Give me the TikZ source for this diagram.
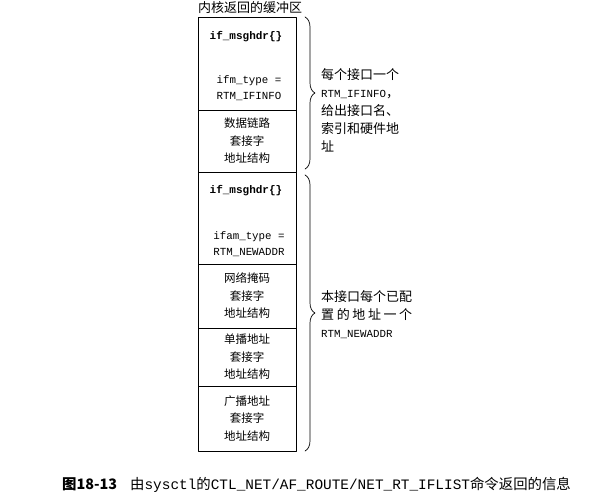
\documentclass[tikz,border=0pt]{standalone}
\usepackage{fontspec}
\newfontfamily\cjk{Noto Sans CJK SC}
\setmonofont{Liberation Mono}
\usetikzlibrary{positioning}
\usetikzlibrary{decorations.pathreplacing}

\begin{document}
\begin{tikzpicture}[x=1pt,y=-1pt,line cap=round,line join=round,
  blk/.style={draw, line width=0.7pt, minimum width=98pt, minimum height=#1,
    inner sep=0pt, outer sep=0pt, align=center,
    font=\cjk\fontsize{11.5}{17.5}\selectfont},
  hdr/.style={font=\ttfamily\bfseries\fontsize{11}{13}\selectfont, inner sep=0pt},
  code/.style={font=\ttfamily\fontsize{10.8}{16}\selectfont, align=center, inner sep=0pt},
  side/.style={font=\cjk\fontsize{13}{18}\selectfont, align=left, anchor=west, inner sep=0pt},
  brc/.style={decorate, decoration={brace, amplitude=10pt}, line width=0.7pt}]
\useasboundingbox (0,0) rectangle (598,497);

% buffer blocks
\node[blk=93pt, anchor=north] (hdrA) at (247,17) {};
\node[blk=62pt, below=0pt of hdrA] (dlink) {数据链路\\套接字\\地址结构};
\node[blk=92pt, below=0pt of dlink] (hdrB) {};
\node[blk=64pt, below=0pt of hdrB] (nmask) {网络掩码\\套接字\\地址结构};
\node[blk=58pt, below=0pt of nmask] (ucast) {单播地址\\套接字\\地址结构};
\node[blk=65pt, below=0pt of ucast] (bcast) {广播地址\\套接字\\地址结构};

% texts inside the header blocks
\node[hdr] (nameA) at (246,37) {if\_msghdr\{\}};
\node[code] (typeA) at (249,88) {ifm\_type =\\RTM\_IFINFO};
\node[hdr] (nameB) at (246,191) {if\_msghdr\{\}};
\node[code] (typeB) at (249,244) {ifam\_type =\\RTM\_NEWADDR};

% title
\node[anchor=south west, inner sep=0pt, font=\cjk\fontsize{13}{14}\selectfont]
  (title) at ([yshift=3pt]hdrA.north west) {内核返回的缓冲区};

% braces
\draw[brc] ([xshift=9pt]hdrA.north east) -- ([xshift=9pt,yshift=3pt]dlink.south east);
\draw[brc] ([xshift=9pt,yshift=-3pt]hdrB.north east) -- ([xshift=9pt]bcast.south east);

% side notes
\node[side] (noteA) at (321,110) {每个接口一个\\
  {\ttfamily\fontsize{10.8}{18}\selectfont RTM\_IFINFO}，\\
  给出接口名、\\索引和硬件地\\址};
\node[side] (noteB) at (321,315) {本接口每个已配\\
  \makebox[7em][s]{置\hfill 的\hfill 地\hfill 址\hfill 一\hfill 个}\\
  {\ttfamily\fontsize{10.8}{18}\selectfont RTM\_NEWADDR}};

% caption
\node[anchor=west, inner sep=0pt, font=\cjk\fontsize{14.4}{16}\selectfont] (caption) at (62,485)
  {{\bfseries 图18-13}\hspace{13pt}由\texttt{sysctl}的\texttt{CTL\_NET/AF\_ROUTE/NET\_RT\_IFLIST}命令返回的信息};
\end{tikzpicture}
\end{document}
